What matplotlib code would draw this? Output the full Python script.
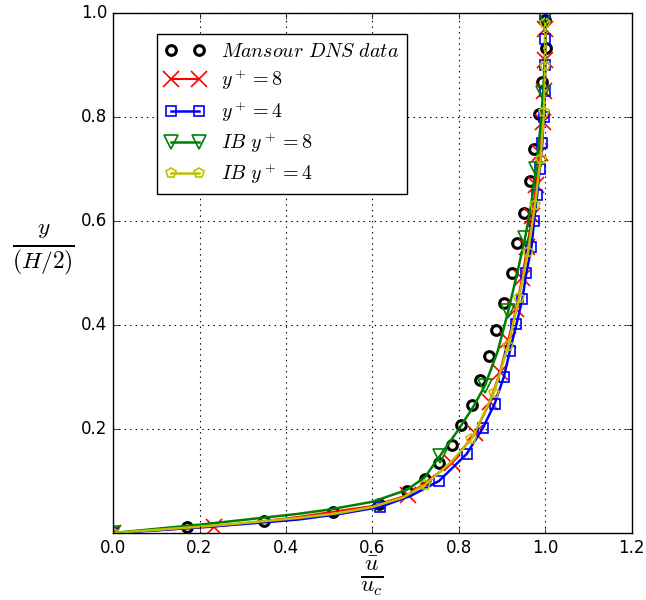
import numpy as np
import matplotlib
matplotlib.use('Agg')
import matplotlib.pyplot as plt

plt.style.use('classic')
plt.rcParams['mathtext.fontset'] = 'cm'
plt.rcParams['font.family'] = 'DejaVu Sans'

# Mansour DNS data (u/uc, y/(H/2))
dns_u = [0.172, 0.349, 0.509, 0.616, 0.680, 0.721, 0.753, 0.783, 0.805, 0.831,
         0.849, 0.870, 0.887, 0.905, 0.923, 0.935, 0.951, 0.964, 0.974, 0.985,
         0.993, 1.001, 1.000]
dns_y = [0.012, 0.023, 0.040, 0.055, 0.081, 0.104, 0.135, 0.169, 0.208, 0.247,
         0.294, 0.340, 0.390, 0.443, 0.500, 0.557, 0.616, 0.677, 0.738, 0.805,
         0.868, 0.933, 0.987]

# y+ = 8
yp8_u = [0.0, 0.234, 0.43, 0.60, 0.683, 0.783, 0.837, 0.872, 0.895, 0.914,
         0.932, 0.946, 0.958, 0.969, 0.979, 0.987, 0.994, 0.998, 1.0, 1.0]
yp8_y = [0.0, 0.012, 0.031, 0.052, 0.073, 0.134, 0.192, 0.252, 0.310, 0.371,
         0.430, 0.490, 0.550, 0.610, 0.670, 0.730, 0.790, 0.850, 0.910, 0.970]
yp8_marks = [0, 1, 4, 5, 6, 7, 8, 9, 10, 11, 12, 13, 14, 15, 16, 17, 18, 19]

# y+ = 4
yp4_u = [0.0, 0.1, 0.2, 0.3, 0.43, 0.52, 0.618, 0.69, 0.754, 0.818, 0.855,
         0.883, 0.904, 0.918, 0.933, 0.947, 0.956, 0.968, 0.974, 0.981, 0.987,
         0.993, 0.996, 0.999, 1.0, 1.0, 1.0]
yp4_y = [0.0, 0.005, 0.011, 0.017, 0.026, 0.036, 0.050, 0.072, 0.100, 0.152,
         0.201, 0.249, 0.300, 0.350, 0.401, 0.450, 0.500, 0.550, 0.600, 0.650,
         0.700, 0.750, 0.800, 0.850, 0.900, 0.950, 1.0]
yp4_marks = [0, 6] + list(range(8, 27))

# IB y+ = 8
ib8_u = [0.0, 0.1, 0.2, 0.3, 0.43, 0.5, 0.6, 0.68, 0.721, 0.756, 0.80, 0.835,
         0.86, 0.89, 0.914, 0.935, 0.953, 0.967, 0.978, 0.988, 0.995, 0.999, 1.0]
ib8_y = [0.0, 0.008, 0.016, 0.025, 0.037, 0.045, 0.060, 0.083, 0.107, 0.148,
         0.200, 0.245, 0.283, 0.350, 0.426, 0.500, 0.567, 0.630, 0.700, 0.775,
         0.847, 0.920, 0.990]
ib8_marks = [0, 9, 12, 14, 16, 18, 20, 22]

# IB y+ = 4
ib4_u = [0.0, 0.1, 0.2, 0.3, 0.43, 0.52, 0.6, 0.67, 0.721, 0.78, 0.829, 0.881,
         0.914, 0.939, 0.960, 0.976, 0.989, 0.997, 1.0, 1.0]
ib4_y = [0.0, 0.006, 0.012, 0.019, 0.029, 0.038, 0.050, 0.068, 0.092, 0.135,
         0.180, 0.270, 0.360, 0.451, 0.541, 0.630, 0.720, 0.810, 0.898, 0.980]
ib4_marks = [0, 8] + list(range(10, 20))

xticks = [0.0, 0.2, 0.4, 0.6, 0.8, 1.0, 1.2]
yticks = [0.2, 0.4, 0.6, 0.8, 1.0]

fig = plt.figure(figsize=(6.46, 6.0), dpi=100, facecolor='white')
ax = fig.add_axes([0.175, 0.1117, 0.803, 0.8666])
ax.set_facecolor('white')

ax.plot(dns_u, dns_y, 'o', color='k', mfc='none', mec='k', mew=2.2, ms=7,
        label=r'$Mansour\ DNS\ data$')
ax.plot(yp8_u, yp8_y, '-x', color='r', lw=1.5, ms=11, mew=1.2,
        markevery=yp8_marks, label=r'$y^+=8$')
ax.plot(yp4_u, yp4_y, '-s', color='b', lw=1.8, ms=7, mew=1.2, mfc='none',
        mec='b', markevery=yp4_marks, label=r'$y^+=4$')
ax.plot(ib8_u, ib8_y, '-v', color='g', lw=1.8, ms=10, mew=1.2, mfc='none',
        mec='g', markevery=ib8_marks, label=r'$IB\ y^+=8$')
ax.plot(ib4_u, ib4_y, '-p', color='y', lw=1.8, ms=7, mew=1.2, mfc='none',
        mec='y', markevery=ib4_marks, label=r'$IB\ y^+=4$')

ax.set_xlim(0, 1.2)
ax.set_ylim(0, 1.0)
ax.set_xticks(xticks)
ax.set_yticks(yticks)
ax.tick_params(labelsize=12)
ax.grid(True, color='k', linestyle=':', linewidth=0.8)

ax.set_xlabel(r'$\frac{\bar{u}}{u_c}$', fontsize=24, va='center', ha='center')
ax.xaxis.set_label_coords(0.499, -0.083)
ax.set_ylabel(r'$\frac{y}{(H/2)}$', fontsize=24, rotation=0,
              va='center', ha='center')
ax.yaxis.set_label_coords(-0.135, 0.545)

leg = ax.legend(loc='upper left', bbox_to_anchor=(0.084, 0.96),
                borderaxespad=0, numpoints=2, fontsize=14.4,
                handlelength=2.0, labelspacing=0.33, fancybox=False)
leg.get_frame().set_edgecolor('k')

fig.savefig('out.png', dpi=100, facecolor='white')
